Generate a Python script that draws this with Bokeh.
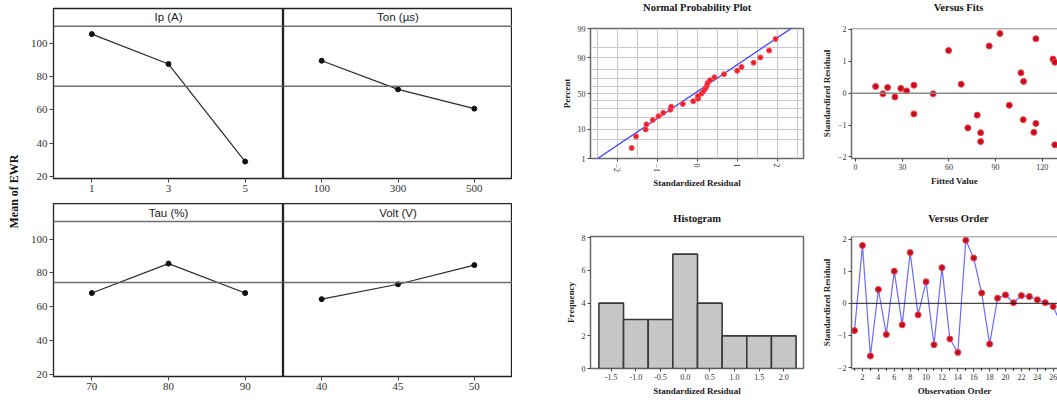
import math
from statistics import NormalDist
from bokeh.plotting import figure
from bokeh.layouts import row, column
from bokeh.models import Range1d, FixedTicker, Span, Label, PrintfTickFormatter
from bokeh.core.properties import value
from bokeh.embed import file_html
from bokeh.resources import INLINE

# ---------------- data: main effects ----------------
factor_names = ["Ip (A)", "Ton (µs)", "Tau (%)", "Volt (V)"]
ip_levels = ["1", "3", "5"]
ton_levels = ["100", "300", "500"]
tau_levels = ["70", "80", "90"]
volt_levels = ["40", "45", "50"]
ip_means = [105.6, 87.6, 29.0]
ton_means = [89.6, 72.4, 60.8]
tau_means = [68.1, 85.5, 68.1]
volt_means = [64.5, 73.3, 84.6]
grand_mean = 74.3
effect_yticks = [20, 40, 60, 80, 100]

# ---------------- data: residual plots ----------------
observation = list(range(1, 28))
order_residuals = [-0.85, 1.80, -1.64, 0.43, -0.97, 1.00, -0.67, 1.58, -0.36, 0.67,
                   -1.29, 1.11, -1.11, -1.53, 1.96, 1.41, 0.32, -1.27, 0.16, 0.26,
                   0.02, 0.24, 0.21, 0.11, 0.02, -0.10, -0.65]
fitted_values = [12.9, 17.6, 20.6, 25.3, 29.1, 32.8, 37.5, 37.5, 49.9, 59.8,
                 67.9, 72.2, 78.2, 80.4, 80.4, 85.9, 92.8, 98.8, 106.3, 107.8,
                 108.0, 114.6, 115.9, 115.9, 126.9, 128.1, 128.1]
fit_residuals = [0.21, -0.02, 0.18, -0.12, 0.15, 0.07, 0.25, -0.65, -0.02, 1.34,
                 0.28, -1.09, -0.69, -1.24, -1.52, 1.48, 1.87, -0.38, 0.64, -0.83,
                 0.37, -1.23, 1.71, -0.95, 1.07, 0.97, -1.62]
hist_centers = [-1.5, -1.0, -0.5, 0.0, 0.5, 1.0, 1.5, 2.0]
hist_counts = [4, 3, 3, 7, 4, 2, 2, 2]
hist_bin_width = 0.5
normal_fit_mean = -0.07
normal_fit_sd = 1.04
percent_ticks = [1, 10, 50, 90, 99]
percent_grid = [1, 5, 10, 20, 30, 40, 50, 60, 70, 80, 90, 95, 99]

SERIF = "Liberation Serif"
SANS = "Liberation Sans"


def base_fig(width, height, **kw):
    p = figure(width=width, height=height, output_backend="svg", toolbar_location=None,
               title=None, **kw)
    return p


def style_axes(p, tick_size="8px", label_size="9px"):
    for ax in p.axis:
        ax.major_tick_out = 3
        ax.major_tick_in = 0
        ax.minor_tick_out = 0
        ax.minor_tick_in = 0
        ax.major_label_standoff = 2
        ax.axis_label_standoff = 3
        ax.major_label_text_font = SERIF
        ax.major_label_text_font_size = tick_size
        ax.major_label_text_color = "#333333"
        ax.axis_label_text_font = SERIF
        ax.axis_label_text_font_style = "bold"
        ax.axis_label_text_font_size = label_size
        ax.axis_label_text_color = "#222222"
        ax.major_tick_line_color = "#444444"


def text_fig(width, height, text, cx, cy_from_top, size, style, angle=0.0):
    """A small axis-less figure holding one text (titles / side label)."""
    t = base_fig(width, height, x_range=Range1d(0, width), y_range=Range1d(0, height),
                 x_axis_location=None, y_axis_location=None,
                 min_border_left=0, min_border_right=0, min_border_top=0, min_border_bottom=0)
    t.grid.visible = False
    t.outline_line_color = None
    t.text(x=[cx], y=[height - cy_from_top], text=[text], angle=angle,
           text_align="center", text_baseline="middle", text_font=value(SERIF),
           text_font_style=style, text_font_size=size, text_color="#151515")
    return t


# ---------------- main effects panels ----------------
def effect_panel(name, levels, means, width, height, show_y, top, bottom):
    p = base_fig(width, height,
                 x_range=Range1d(-0.5, len(levels) - 0.5), y_range=Range1d(18.8, 121.0),
                 y_axis_location="left" if show_y else None,
                 min_border_left=31 if show_y else 0, min_border_right=0,
                 min_border_top=top, min_border_bottom=bottom)
    xs = list(range(len(levels)))
    p.grid.visible = False
    p.outline_line_color = "#222222"
    p.outline_line_width = 1.3
    p.add_layout(Span(location=grand_mean, dimension="width", line_color="#6e6e6e", line_width=1.5))
    p.add_layout(Span(location=110.3, dimension="width", line_color="#6e6e6e", line_width=1.5))
    p.add_layout(Label(x=(len(levels) - 1) / 2, y=115.6, text=name, text_align="center",
                       text_baseline="middle", text_font=SANS, text_font_size="11.5px",
                       text_color="#222222"))
    p.line(xs, means, line_color="#2a2a2a", line_width=1.2)
    p.scatter(xs, means, size=5, color="#111111")
    style_axes(p, tick_size="11px")
    p.xaxis.ticker = FixedTicker(ticks=xs)
    p.xaxis.major_label_overrides = {i: lab for i, lab in enumerate(levels)}
    p.xaxis.axis_line_color = None
    p.xaxis.major_tick_out = 4
    if show_y:
        p.yaxis.ticker = FixedTicker(ticks=effect_yticks)
        p.yaxis.axis_line_color = None
        p.yaxis.major_tick_out = 4
    return p


tl = effect_panel(factor_names[0], ip_levels, ip_means, 261, 203, True, 8, 25)
tr = effect_panel(factor_names[1], ton_levels, ton_means, 229, 203, False, 8, 25)
bl = effect_panel(factor_names[2], tau_levels, tau_means, 261, 197, True, 0, 24)
br = effect_panel(factor_names[3], volt_levels, volt_means, 229, 197, False, 0, 24)

lab = text_fig(22, 400, "Mean of EWR", 13, 191, "12px", "bold", angle=math.pi / 2)

# ---------------- normal probability plot ----------------
nd = NormalDist()
n = len(order_residuals)
sorted_res = sorted(order_residuals)
npp_z = [nd.inv_cdf((i - 0.3) / (n + 0.4)) for i in range(1, n + 1)]
zlim = nd.inv_cdf(0.99)

npp_t = text_fig(300, 20, "Normal Probability Plot", 184.7, 7, "10.5px", "bold")
npp = base_fig(300, 180,
               x_range=Range1d(-2.67, 2.66), y_range=Range1d(-zlim, zlim),
               min_border_left=78, min_border_right=9, min_border_top=8, min_border_bottom=42)
npp.outline_line_color = "#6a6a6a"
npp.outline_line_width = 1.5
npp.xgrid.ticker = FixedTicker(ticks=[-2.5, -2.0, -1.5, -1.0, -0.5, 0.0, 0.5, 1.0, 1.5, 2.0, 2.5])
npp.ygrid.ticker = FixedTicker(ticks=[nd.inv_cdf(v / 100) for v in percent_grid])
npp.grid.grid_line_color = "#c8c8c8"
npp.grid.grid_line_width = 1
z_line = [-3.0, 3.0]
npp.line([normal_fit_mean + normal_fit_sd * z for z in z_line], z_line,
         line_color="#3f3fff", line_width=1.3)
npp.scatter(sorted_res, npp_z, size=5, fill_color="#e8202c", line_color="#ff4a55")
style_axes(npp)
npp.xaxis.ticker = FixedTicker(ticks=[-2, -1, 0, 1, 2])
npp.xaxis.major_label_orientation = "vertical"
pt_z = [nd.inv_cdf(v / 100) for v in percent_ticks]
npp.yaxis.ticker = FixedTicker(ticks=pt_z)
npp.yaxis.major_label_overrides = {z: str(v) for z, v in zip(pt_z, percent_ticks)}
npp.axis.axis_line_color = None
npp.xaxis.axis_label = "Standardized Residual"
npp.yaxis.axis_label = "Percent"

# ---------------- versus fits ----------------
vf_t = text_fig(245, 20, "Versus Fits", 146, 7, "10.5px", "bold")
vf = base_fig(245, 180,
              x_range=Range1d(-2.6, 129.8), y_range=Range1d(-2.05, 2.03),
              min_border_left=39, min_border_right=0, min_border_top=8, min_border_bottom=42)
vf.grid.visible = False
vf.outline_line_color = None
vf.add_layout(Span(location=2.03, dimension="width", line_color="#6a6a6a", line_width=1.5))
vf.add_layout(Span(location=0, dimension="width", line_color="#8a8a8a", line_width=1.5))
vf.scatter(fitted_values, fit_residuals, size=6, fill_color="#c01020", line_color="#ff3a45")
style_axes(vf)
vf.xaxis.ticker = FixedTicker(ticks=[0, 30, 60, 90, 120])
vf.yaxis.ticker = FixedTicker(ticks=[-2, -1, 0, 1, 2])
vf.axis.axis_line_color = "#6a6a6a"
vf.axis.axis_line_width = 1.5
vf.xaxis.axis_label = "Fitted Value"
vf.yaxis.axis_label = "Standardized Residual"

# ---------------- histogram ----------------
hist_t = text_fig(300, 28, "Histogram", 184.7, 18, "10.5px", "bold")
hist = base_fig(300, 172,
                x_range=Range1d(-1.92, 2.40), y_range=Range1d(0, 8.08),
                min_border_left=78, min_border_right=9, min_border_top=8, min_border_bottom=32)
hist.grid.visible = False
hist.outline_line_color = "#6a6a6a"
hist.outline_line_width = 1.5
hist.vbar(x=hist_centers, width=hist_bin_width, top=hist_counts, bottom=0,
          fill_color="#c6c6c6", line_color="#3a3a3a", line_width=1.6)
style_axes(hist)
hist.xaxis.ticker = FixedTicker(ticks=hist_centers)
hist.xaxis.formatter = PrintfTickFormatter(format="%.1f")
hist.yaxis.ticker = FixedTicker(ticks=[0, 2, 4, 6, 8])
hist.axis.axis_line_color = None
hist.xaxis.axis_label = "Standardized Residual"
hist.yaxis.axis_label = "Frequency"

# ---------------- versus order ----------------
vo_t = text_fig(245, 28, "Versus Order", 146, 18, "10.5px", "bold")
vo = base_fig(245, 172,
              x_range=Range1d(0.62, 26.54), y_range=Range1d(-2.03, 2.08),
              min_border_left=39, min_border_right=0, min_border_top=8, min_border_bottom=32)
vo.grid.visible = False
vo.outline_line_color = None
vo.add_layout(Span(location=2.08, dimension="width", line_color="#6a6a6a", line_width=1.5))
vo.add_layout(Span(location=0, dimension="width", line_color="#1a1a1a", line_width=1))
vo.line(observation, order_residuals, line_color="#6a6aff", line_width=1.2)
vo.scatter(observation, order_residuals, size=6, fill_color="#c01020", line_color="#ff3a45")
style_axes(vo)
vo.xaxis.ticker = FixedTicker(ticks=list(range(2, 28, 2)), minor_ticks=list(range(1, 28, 2)))
vo.xaxis.minor_tick_out = 2
vo.yaxis.ticker = FixedTicker(ticks=[-2, -1, 0, 1, 2])
vo.axis.axis_line_color = "#6a6a6a"
vo.axis.axis_line_width = 1.5
vo.xaxis.axis_label = "Observation Order"
vo.yaxis.axis_label = "Standardized Residual"

left_block = column(row(tl, tr, spacing=0), row(bl, br, spacing=0), spacing=0)
right_block = column(row(npp_t, vf_t, spacing=0), row(npp, vf, spacing=0),
                     row(hist_t, vo_t, spacing=0), row(hist, vo, spacing=0), spacing=0)
layout = row(lab, left_block, right_block, spacing=0)

open("out.html", "w").write(file_html(layout, INLINE))
